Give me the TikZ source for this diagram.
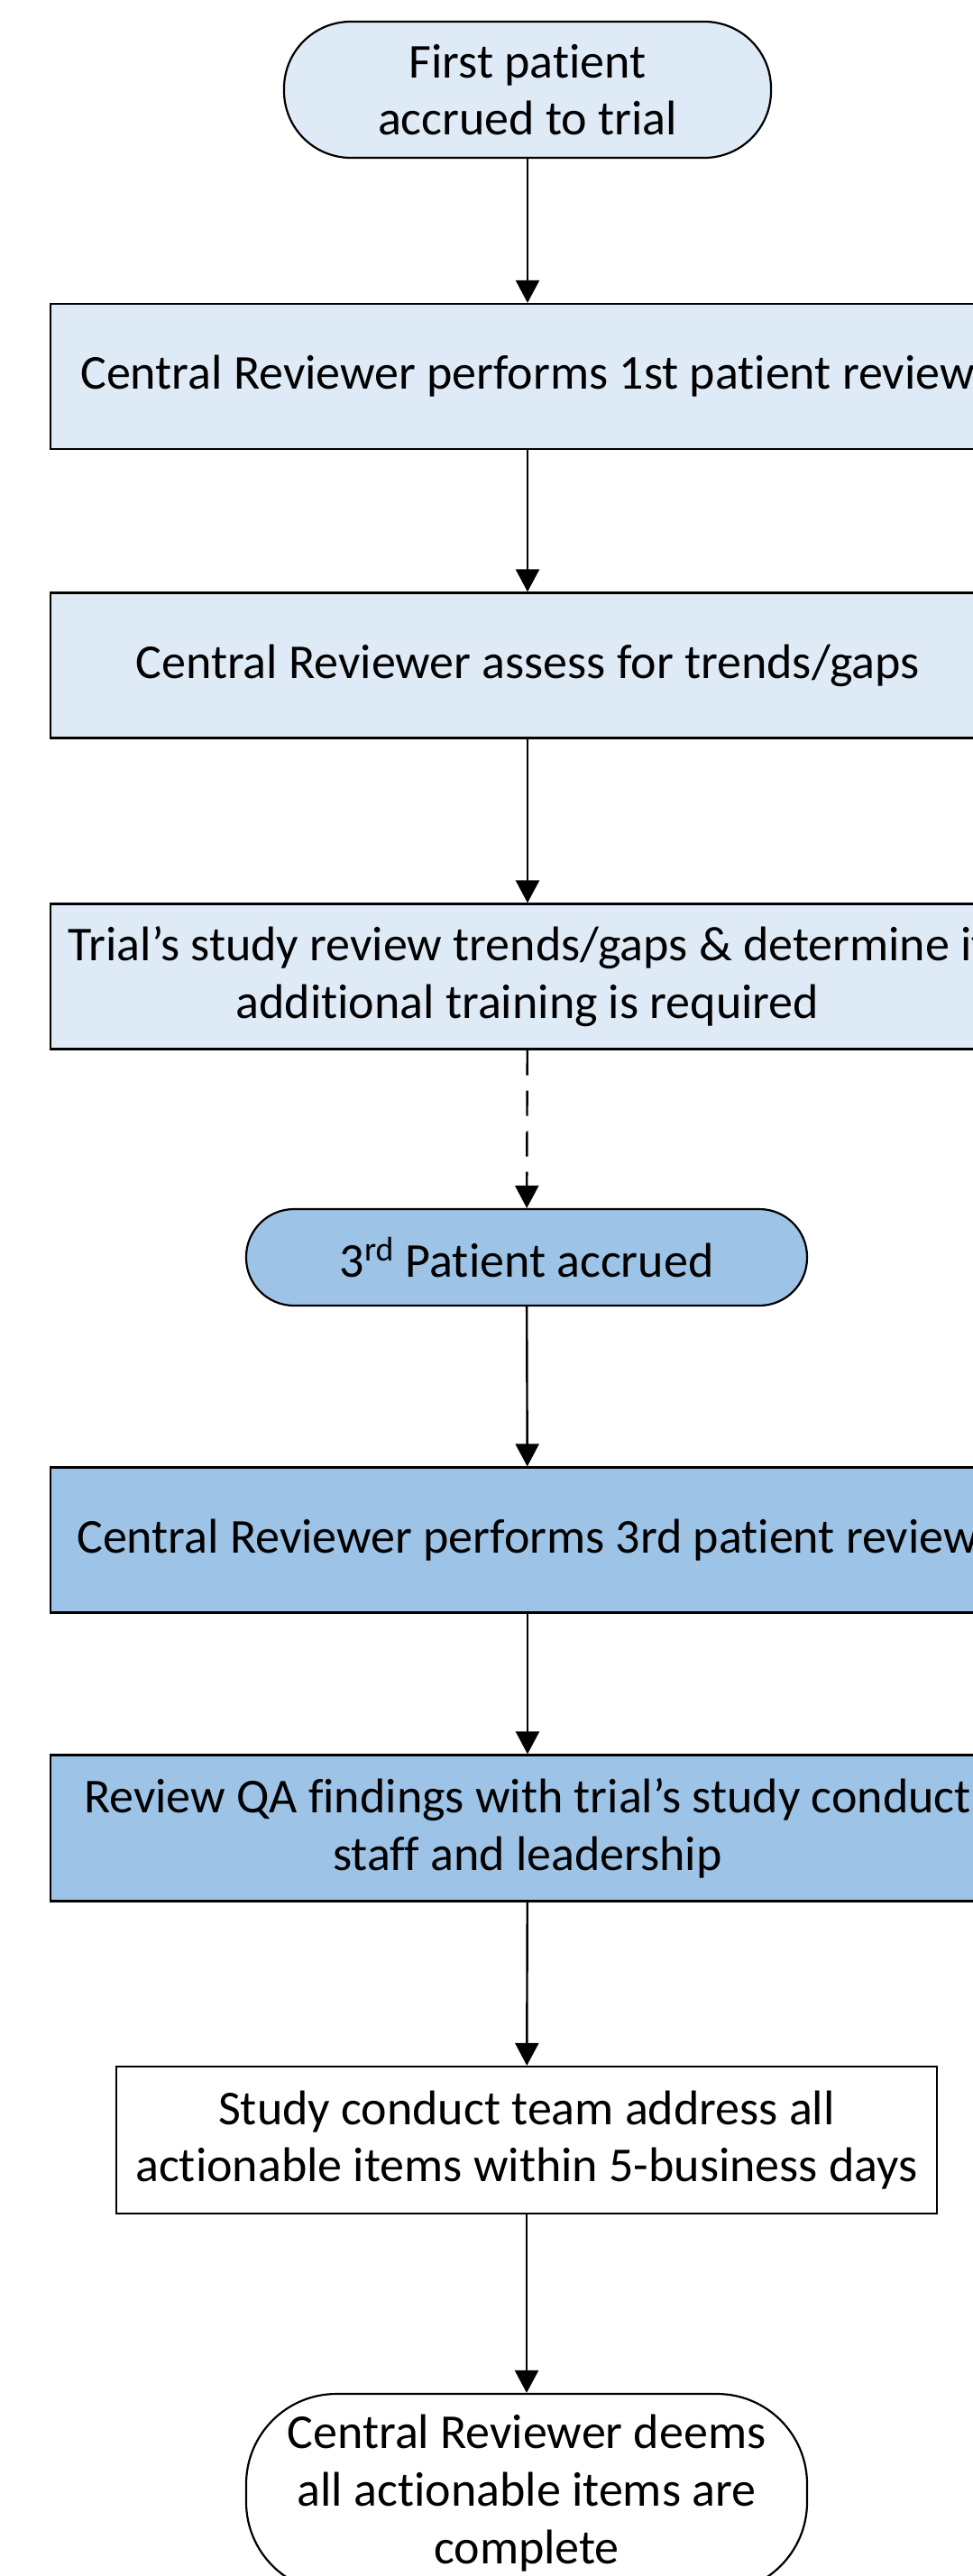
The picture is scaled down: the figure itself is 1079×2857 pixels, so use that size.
\documentclass[tikz,border=0pt]{standalone}
\usepackage{fontspec}
\setmainfont{Carlito}[Ligatures=NoCommon]
\usetikzlibrary{arrows.meta}
\definecolor{paleblue}{HTML}{DEEBF7}
\definecolor{midblue}{HTML}{9DC3E6}
\begin{document}
\begin{tikzpicture}[x=0.5pt,y=-0.5pt,
  every node/.style={font=\fontsize{27}{31.8}\selectfont, align=center,
    inner sep=0pt, line width=1.1pt, draw=black},
  procbox/.style={rectangle, minimum width=529pt, minimum height=80.5pt},
  termbox/.style={rectangle, rounded corners=#1},
  flow/.style={-{Triangle[width=13pt,length=12.5pt]}, line width=1.2pt},
  dashflow/.style={flow, dash pattern=on 14pt off 8.5pt},
]
% page frame
\useasboundingbox (0,0) rectangle (1079,2857);
\clip (0,0) rectangle (1079,2857);

% steps of the flow
\node[termbox=37pt, fill=paleblue, minimum width=270pt, minimum height=75.5pt]
  (t1) at (585,99.5) {First patient\\accrued to trial};
\node[procbox, fill=paleblue] (b1) at (585,417.5)
  {Central Reviewer performs 1st patient review};
\node[procbox, fill=paleblue] (b2) at (585,738)
  {Central Reviewer assess for trends/gaps};
\node[procbox, fill=paleblue] (b3) at (585,1083)
  {Trial’s study review trends/gaps \& determine if\\additional training is required};
\node[termbox=26.5pt, fill=midblue, minimum width=311pt, minimum height=53.5pt]
  (t2) at (584,1394.5) {3\textsuperscript{rd} Patient accrued};
\node[procbox, fill=midblue] (b4) at (585,1708)
  {Central Reviewer performs 3rd patient review};
\node[procbox, fill=midblue, minimum height=81pt] (b5) at (585,2027.5)
  {Review QA findings with trial’s study conduct\\staff and leadership};
\node[rectangle, fill=white, minimum width=455pt, minimum height=81.5pt]
  (b6) at (584,2373.5)
  {Study conduct team address all\\actionable items within 5-business days};
\node[termbox=50pt, fill=white, minimum width=311pt, minimum height=110pt]
  (t3) at (584,2765)
  {Central Reviewer deems\\all actionable items are\\complete};

% connectors
\draw[flow] (t1) -- (b1);
\draw[flow] (b1) -- (b2);
\draw[flow] (b2) -- (b3);
\draw[dashflow] (b3) -- (t2);
\draw[flow] (t2) -- (b4);
\draw[flow] (b4) -- (b5);
\draw[flow] (b5) -- (b6);
\draw[flow] (b6) -- (t3);
\end{tikzpicture}
\end{document}
